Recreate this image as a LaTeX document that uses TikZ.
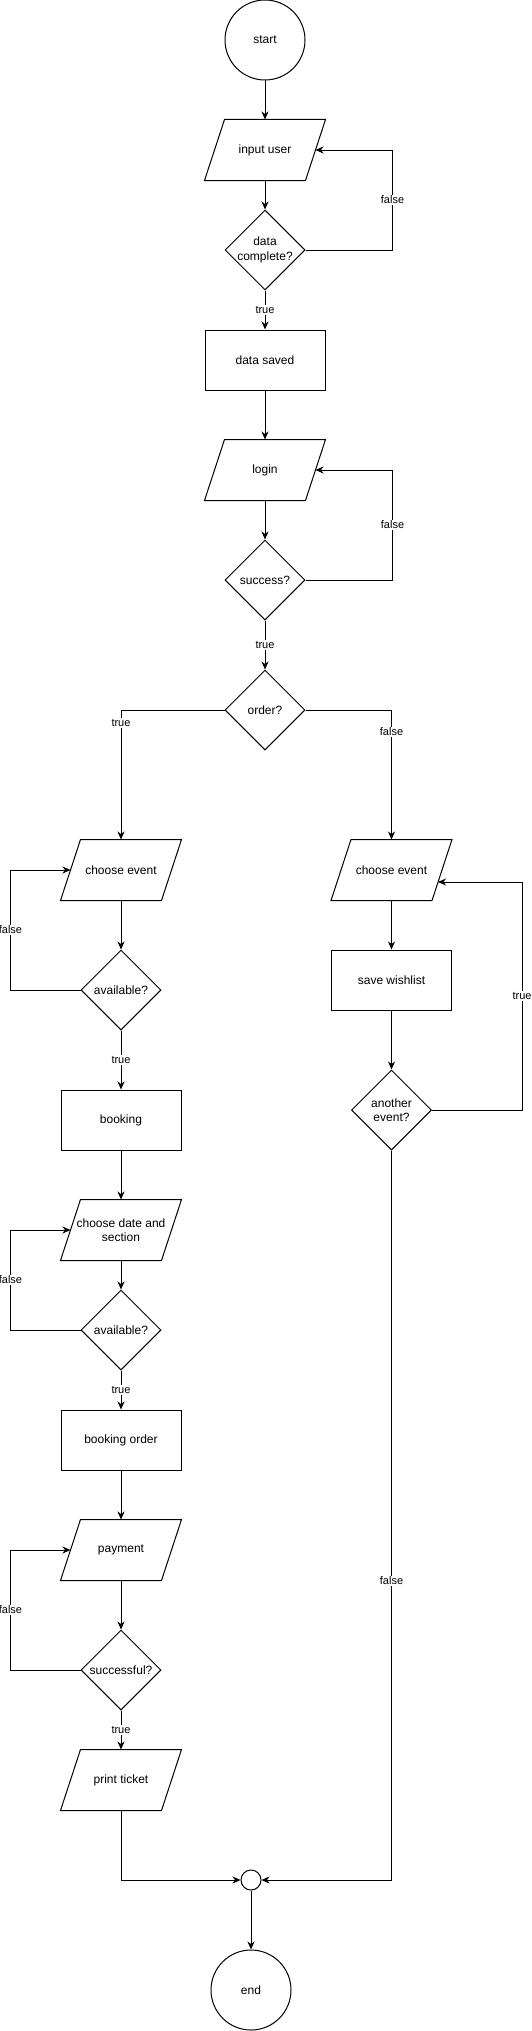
\documentclass[tikz,border=0pt]{standalone}
\usepackage{fontspec}
\setmainfont{Liberation Sans}
\usetikzlibrary{shapes.geometric,arrows.meta,calc}

\begin{document}
\begin{tikzpicture}[x=1pt,y=-1pt,line width=1pt,
	io/.style={minimum width=100pt,minimum height=60pt,inner sep=1pt,align=center,
		append after command={\pgfextra{\draw ($(\tikzlastnode.north west)+(10,0)$) -- ($(\tikzlastnode.north east)+(10,0)$) -- ($(\tikzlastnode.south east)+(-10,0)$) -- ($(\tikzlastnode.south west)+(-10,0)$) -- cycle;}}},
	proc/.style={draw,rectangle,minimum width=120pt,minimum height=60pt},
	dec/.style={draw,diamond,minimum size=80pt,inner sep=-1pt,align=center},
	term/.style={draw,circle,minimum size=80pt},
	arr/.style={-{Stealth[length=8pt,width=7pt,inset=2.5pt]}},
	lbl/.style={fill=white,inner sep=1pt,font=\fontsize{11}{13}\selectfont}]
	\fontsize{12}{14.4}\selectfont
	\useasboundingbox (0,0) rectangle (531,2031);
	
	\node[term] (start) at (265,40) {start};
	\node[io] (inuser) at (265,150) {input user};
	\node[dec] (cmpl) at (265,250) {data\\complete?};
	\node[proc] (saved) at (265,360) {data saved};
	\node[io] (login) at (265,470) {login};
	\node[dec] (succ) at (265,580) {success?};
	\node[dec] (order) at (265,710) {order?};
	
	\node[io] (evL) at (121,870) {choose event};
	\node[dec] (avL) at (121,990) {available?};
	\node[proc] (book) at (121,1120) {booking};
	\node[io] (date) at (121,1230) {choose date and\\section};
	\node[dec] (avD) at (121,1330) {available?};
	\node[proc] (bord) at (121,1440) {booking order};
	\node[io] (pay) at (121,1550) {payment};
	\node[dec] (sful) at (121,1670) {successful?};
	\node[io] (print) at (121,1780) {print ticket};
	
	\node[io] (evR) at (391.5,870) {choose event};
	\node[proc] (wish) at (391.5,980) {save wishlist};
	\node[dec] (another) at (391.5,1110) {another\\event?};
	
	\node[draw,circle,minimum size=20pt,inner sep=0pt] (merge) at (251,1880) {};
	\node[term] (end) at (251,1990) {end};
	
	\draw[arr] (start) -- (inuser);
	\draw[arr] (inuser) -- (cmpl);
	\draw[arr] (cmpl.east) -- ++(87,0) |- node[lbl,pos=0.25]{false} (inuser.east);
	\draw[arr] (cmpl) -- node[lbl]{true} (saved);
	\draw[arr] (saved) -- (login);
	\draw[arr] (login) -- (succ);
	\draw[arr] (succ.east) -- ++(87,0) |- node[lbl,pos=0.25]{false} (login.east);
	\draw[arr] (succ) -- node[lbl]{true} (order);
	\draw[arr] (order.west) -| node[lbl,pos=0.55]{true} (evL.north);
	\draw[arr] (order.east) -| node[lbl,pos=0.585]{false} (evR.north);
	
	\draw[arr] (evL) -- (avL);
	\draw[arr] (avL.west) -- ++(-70,0) |- node[lbl,pos=0.25]{false} (evL.west);
	\draw[arr] (avL) -- node[lbl]{true} (book);
	\draw[arr] (book) -- (date);
	\draw[arr] (date) -- (avD);
	\draw[arr] (avD.west) -- ++(-70,0) |- node[lbl,pos=0.25]{false} (date.west);
	\draw[arr] (avD) -- node[lbl]{true} (bord);
	\draw[arr] (bord) -- (pay);
	\draw[arr] (pay) -- (sful);
	\draw[arr] (sful.west) -- ++(-70,0) |- node[lbl,pos=0.25]{false} (pay.west);
	\draw[arr] (sful) -- node[lbl]{true} (print);
	\draw[arr] (print.south) |- (merge.west);
	
	\draw[arr] (evR) -- (wish);
	\draw[arr] (wish) -- (another);
	\coordinate (evRin) at ($(evR.east)+(-4,12)$);
	\draw[arr] (another.east) -- ++(90,0) |- node[lbl,pos=0.25]{true} (evRin);
	\draw[arr] (another.south) |- node[lbl,pos=0.295]{false} (merge.east);
	\draw[arr] (merge) -- (end);
\end{tikzpicture}
\end{document}
